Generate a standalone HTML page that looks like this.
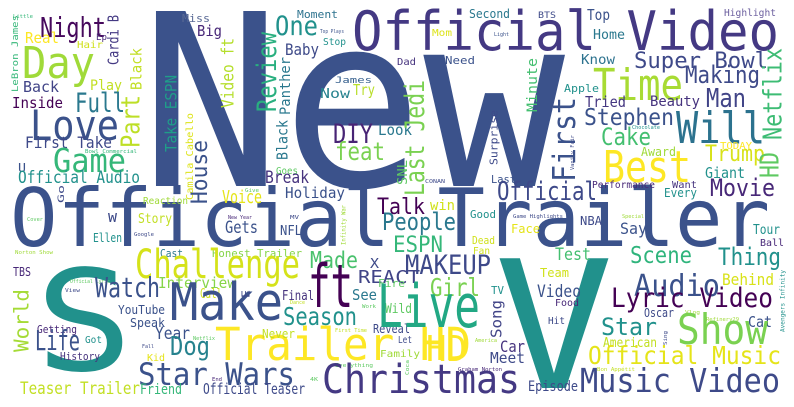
<!DOCTYPE html>
<html><head><meta charset="utf-8"><title>Word Cloud</title>
<style>html,body{margin:0;padding:0;background:#fff;width:794px;height:407px;overflow:hidden;}svg{display:block;}text{font-family:"DejaVu Sans Mono","Liberation Mono",monospace;}</style>
</head><body>
<svg id="cloud" width="794" height="407" viewBox="0 0 794 407" xmlns="http://www.w3.org/2000/svg" style="overflow:hidden">
<rect x="0" y="0" width="794" height="407" fill="#ffffff"/>
</svg>
<script>
// words: text, x, baseline y, size, width
const hWords = [
["New",140,186,240,425,"#3b528b"],
["Official Video",352,50,54,427,"#443983"],
["Official Trailer",10,246,80,760,"#3b528b"],
["Trailer HD",215,360,45,256,"#fde725"],
["S",35,370,140,98,"#21918c"],
["V",494,388,178,120,"#21918c"],
["Little",13,18,5,20,"#35b779"],["Night",40,37,28,66,"#46085c"],["Ep",96,40,9,11,"#482878"],
["Real",25,43,15,34,"#fde725"],["Hair",77,48,10,26,"#d0e11c"],["Day",22,78,44,73,"#a0da39"],
["Back",23,92,15,36,"#414487"],["Play",90,90,14,32,"#c2df23"],["Inside",12,108,15,51,"#440154"],
["Full",75,112,27,50,"#2a788e"],["Love",30,140,42,89,"#3b528b"],["First Take",25,148,16,87,"#3e4989"],
["Bowl Commercial",85,153,5,52,"#35b779"],["Game",53,172,33,73,"#35b779"],["U",18,172,12,8,"#3b528b"],
["Official Audio",18,183,17,122,"#21918c"],["Miss",182,22,11,28,"#5b6b96"],["Big",197,36,15,25,"#482878"],
["One",275,35,27,43,"#21918c"],["Moment",297,18,11,41,"#2c728e"],["Top Plays",320,33,5,24,"#3b528b"],
["Stop",323,45,10,23,"#21918c"],["Baby",285,55,16,34,"#3e4a89"],["James",335,83,9,37,"#355f8d"],
["Now",320,98,13,30,"#26828e"],["Try",353,95,15,22,"#b8de29"],["DIY",333,143,27,40,"#482475"],
["feat",335,160,25,50,"#7ad151"],["Look",378,135,15,34,"#2a788e"],["Goes",276,174,10,22,"#5ec962"],
["Break",265,183,17,44,"#46337e"],["Holiday",285,198,15,60,"#3b528b"],["Voice",222,203,18,40,"#e5e419"],
["Reaction",143,204,10,45,"#a0da39"],["Give",245,192,5,14,"#5ec962"],
["Second",469,18,12,41,"#2a788e"],["BTS",538,18,9,18,"#3e4a89"],["Top",587,20,15,23,"#3b528b"],
["Highlight",724,16,10,52,"#6b5e9e"],["Mom",432,36,10,20,"#dde318"],["Light",494,36,5,15,"#3b528b"],
["Home",593,39,13,32,"#2a788e"],["Dad",397,65,10,19,"#46337e"],["Need",445,64,11,30,"#3b528b"],
["Know",581,64,13,34,"#2c728e"],["Super Bowl",634,68,22,134,"#3e4989"],["Time",593,100,44,90,"#a8db34"],
["Making",685,83,24,75,"#3e4a89"],["Apple",564,92,11,35,"#21918c"],["Tried",585,107,15,41,"#453781"],
["Beauty",650,106,14,50,"#46337e"],["Man",706,107,26,40,"#414487"],["Stephen",584,125,23,90,"#3b528b"],
["Will",676,143,44,89,"#2c728e"],["Chocolate",632,129,5,28,"#21918c"],["Cake",601,145,24,50,"#44bf70"],
["Award",641,156,12,35,"#a0da39"],["TODAY",720,149,10,32,"#fde725"],["Trump",705,161,22,60,"#d8e219"],
["Best",603,182,44,88,"#fde725"],["Giant",705,178,15,40,"#21918c"],["CONAN",425,183,5,20,"#3e4a89"],
["Last",491,183,11,25,"#3b528b"],["Official",497,200,26,100,"#3e4989"],["Performance",592,188,10,63,"#482878"],
["Want",672,188,10,25,"#46337e"],["Every",664,197,12,33,"#21918c"],["Movie",710,196,24,65,"#482878"],
["win",430,210,14,25,"#d0e11c"],
["Cover",27,221,5,16,"#5ec962"],["W",108,222,12,9,"#3e4a89"],["Story",138,223,13,34,"#c2df23"],
["New Year",228,219,5,24,"#482878"],["MV",290,219,5,9,"#3e4a89"],["Google",134,236,5,20,"#3e4a89"],
["Gets",225,233,17,33,"#3b528b"],["NFL",280,235,13,22,"#3b528b"],["Ellen",93,242,12,29,"#21918c"],
["Norton Show",15,254,5,38,"#a0da39"],["Cast",160,257,11,23,"#2a788e"],["Honest Trailer",212,257,11,90,"#86d549"],
["Challenge",135,278,40,165,"#d5e21a"],["Made",310,268,23,48,"#4ac16d"],["X",370,268,13,9,"#3e4a89"],
["TBS",13,276,12,18,"#482878"],["REACT",358,283,18,62,"#414487"],["Official Lyric",70,283,5,40,"#5ec962"],
["Interview",158,288,15,78,"#86d549"],["Watch",95,297,28,65,"#3b528b"],["Call",200,298,13,22,"#d0e11c"],
["Final",282,300,13,32,"#46337e"],["View",65,292,5,15,"#3e4a89"],["See",352,300,15,25,"#2a788e"],
["Fire",378,287,11,27,"#5ec962"],["Make",170,320,52,113,"#3b528b"],["ft",308,307,60,45,"#440154"],
["YouTube",118,314,12,47,"#3b528b"],["Season",283,325,25,74,"#21918c"],["Dance",290,304,5,15,"#c2df23"],
["Work",362,308,5,14,"#5ec962"],["Wild",385,313,13,27,"#5ec962"],["Speak",130,327,12,35,"#3b528b"],
["Getting",37,333,11,40,"#482878"],["Year",155,339,17,35,"#3b528b"],["Never",262,338,12,33,"#c2df23"],
["First Time",335,332,5,32,"#c2df23"],["Reveal",373,333,12,37,"#3e4a89"],["Life",35,350,28,45,"#3b528b"],
["Got",85,343,10,17,"#21918c"],["Fall",142,348,5,12,"#3e4a89"],["Netflix",193,340,5,22,"#5ec962"],
["Let",398,343,10,14,"#3e4a89"],["Dog",170,355,26,40,"#26828e"],["History",60,360,11,40,"#46337e"],
["Kid",147,361,10,18,"#e5e419"],["Family",380,357,10,40,"#a0da39"],["Everything",335,367,5,38,"#5ec962"],
["Star Wars",138,385,31,157,"#3b528b"],["End",212,381,5,10,"#482878"],["4K",310,381,5,8,"#5ec962"],
["Teaser Trailer",20,394,17,120,"#c2df23"],["Friend",140,394,14,42,"#35b779"],["Official Teaser",203,394,15,102,"#3e4a89"],
["Good",470,218,11,26,"#21918c"],["Game Highlights",513,218,5,50,"#3e4a89"],["NBA",580,225,12,22,"#3e4a89"],
["Special",622,218,5,22,"#a0da39"],["Face",511,233,12,29,"#e5e419"],["Say",620,234,16,27,"#3b528b"],
["Tour",753,234,13,27,"#21918c"],["Ball",760,246,10,24,"#482878"],["Dead",472,244,11,23,"#d0e11c"],
["Fan",473,254,10,17,"#d0e11c"],["Talk",377,214,22,48,"#440154"],["People",382,230,24,74,"#2a788e"],
["ESPN",393,252,22,50,"#35b779"],["Test",555,260,17,36,"#44bf70"],["Scene",630,263,23,62,"#2fb47c"],
["Thing",718,265,24,63,"#21918c"],["Team",540,277,12,29,"#d0e11c"],["MAKEUP",405,274,27,86,"#3e4989"],
["Audio",634,296,30,86,"#3b528b"],["Behind",722,285,16,52,"#d8e219"],["Girl",430,296,25,50,"#7ad151"],
["TV",491,294,11,13,"#21918c"],["Video",537,297,17,44,"#3b528b"],["Lyric Video",611,307,27,162,"#440154"],
["Live",377,327,60,103,"#22a884"],["Food",555,306,10,24,"#482878"],["Vlog",685,314,5,15,"#a0da39"],
["Oscar",644,317,12,30,"#3e4a89"],["Refinery29",706,321,5,33,"#a0da39"],["Cat",748,327,15,24,"#3b528b"],
["Hit",548,324,10,17,"#3e4a89"],["Star",601,335,24,56,"#21918c"],["Show",677,344,42,91,"#7ad151"],
["HD",426,361,36,41,"#fde725"],["America",475,342,5,22,"#a0da39"],["American",603,347,13,54,"#c2df23"],
["Car",500,352,16,25,"#46337e"],["Official Music",588,364,25,193,"#e5e419"],["Meet",490,363,15,35,"#3e4a89"],
["Graham Norton",458,371,5,44,"#482878"],["Bon Appétit",597,371,5,38,"#c2df23"],["Christmas",322,393,40,198,"#443983"],
["Episode",528,391,14,50,"#3e4a89"],["Music Video",580,392,33,200,"#3e4a89"]
];
// vertical words: text, right x, bottom y, size, length
const vWords = [
["Cardi B",122,65,15,50,"#443983"],["LeBron James",20,92,9,77,"#35b779"],["Black",145,90,15,42,"#c2df23"],
["Part",145,148,26,53,"#bddf26"],["Go",66,203,9,18,"#3e4a89"],["Take ESPN",180,152,16,77,"#1f9e89"],
["Video ft",237,108,17,70,"#b5de2b"],["Camila Cabello",195,200,10,87,"#dde318"],["House",212,204,22,64,"#3b528b"],
["Review",282,112,27,80,"#29af7f"],["Panther",293,115,14,58,"#2a788e"],["Black",291,160,15,40,"#2a788e"],
["Minute",540,112,14,54,"#44bf70"],["Last Jedi",430,196,27,116,"#7ad151"],["First",582,182,31,85,"#3b528b"],
["Surprise",500,165,11,55,"#3e4a89"],["Netflix",787,140,26,92,"#3dbc74"],["HD",784,178,26,26,"#5ec962"],
["SNL",410,185,13,25,"#5ec962"],["World",33,352,20,63,"#a5db36"],["E",252,298,11,8,"#3e4a89"],
["Song",505,338,15,38,"#414487"],["Infinity War",347,245,6,40,"#a0da39"],["Avengers Infinity",786,332,6,62,"#21918c"],
["Vanity Fair",575,170,5,35,"#3e4a89"],["Coca",410,375,5,15,"#5ec962"],["Sing",668,345,5,14,"#3e4a89"]
];
const svg = document.getElementById('cloud');
const NS = 'http://www.w3.org/2000/svg';
function slug(s){return s.toLowerCase().replace(/[^a-z0-9]+/g,'-').replace(/^-|-$/g,'');}
hWords.forEach(w => {
  const t = document.createElementNS(NS,'text');
  t.setAttribute('x', w[1]);
  t.setAttribute('y', w[2]);
  t.setAttribute('font-size', w[3]);
  t.setAttribute('textLength', w[4]);
  t.setAttribute('lengthAdjust', 'spacingAndGlyphs');
  t.setAttribute('fill', w[5]);
  
  
  t.textContent = w[0];
  svg.appendChild(t);
});
vWords.forEach(w => {
  const t = document.createElementNS(NS,'text');
  const bx = w[1] - 0.22 * w[3];
  t.setAttribute('transform', 'translate(' + bx + ',' + w[2] + ') rotate(-90)');
  t.setAttribute('x', 0);
  t.setAttribute('y', 0);
  t.setAttribute('font-size', w[3]);
  t.setAttribute('textLength', w[4]);
  t.setAttribute('lengthAdjust', 'spacingAndGlyphs');
  t.setAttribute('fill', w[5]);
  
  
  t.textContent = w[0];
  svg.appendChild(t);
});
</script>
</body></html>
